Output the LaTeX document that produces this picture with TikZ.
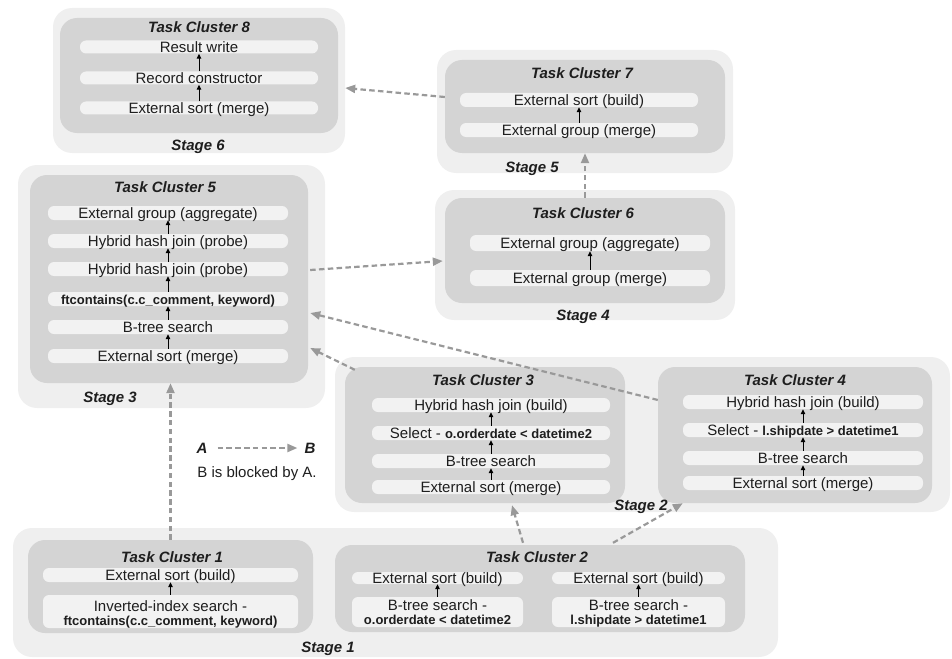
\documentclass[tikz,border=0pt]{standalone}
\usepackage{fontspec}
\setmainfont{Liberation Sans}
\usetikzlibrary{arrows.meta,calc}

\definecolor{stagegray}{HTML}{EFEFEF}
\definecolor{clustergray}{HTML}{D4D4D4}
\definecolor{rowgray}{HTML}{F2F2F2}
\definecolor{dashgray}{HTML}{999999}
\definecolor{inkgray}{HTML}{1E1E1E}

\newcommand\regfont{\fontsize{15}{14}\selectfont}
\newcommand\boldsmall{\fontsize{13}{14}\selectfont\bfseries}

\begin{document}
\begin{tikzpicture}[x=1pt,y=-1pt,
  stagebox/.style={fill=stagegray, rounded corners=19pt, inner sep=0pt, draw=none},
  clusterbox/.style={fill=clustergray, rounded corners=17pt, inner sep=0pt, draw=none},
  rowbox/.style={fill=rowgray, rounded corners=6pt, inner sep=0pt, minimum height=14pt,
    text height=10.7pt, text depth=0pt, font=\regfont, text=inkgray},
  titletext/.style={inner sep=0pt, text height=10.7pt, text depth=0pt,
    font=\regfont\bfseries\itshape, text=inkgray},
  plaintext/.style={inner sep=0pt, text height=10.7pt, text depth=0pt,
    font=\regfont, text=inkgray},
  oparrow/.style={draw=black, line width=1pt, -{Triangle[length=5pt,width=4.5pt]}},
  blockarrow/.style={draw=dashgray, line width=2.2pt, dash pattern=on 5.5pt off 3.3pt,
    -{Triangle[length=10pt,width=8pt]}}
]
\useasboundingbox (0,0) rectangle (952,658);

% ---------- Stage 6 ----------
\node[stagebox, minimum width=292pt, minimum height=145pt] (st6) at (199,80.5) {};
\node[clusterbox, minimum width=278pt, minimum height=115pt] (tc8) at (199,75.5) {};
\node[titletext] (tc8t) at (199,27) {Task Cluster 8};
\node[rowbox, minimum width=238pt, minimum height=13pt] (r8a) at (199,47) {Result write};
\node[rowbox, minimum width=238pt, minimum height=13pt] (r8b) at (199,78) {Record constructor};
\node[rowbox, minimum width=238pt, minimum height=13pt] (r8c) at (199,108) {External sort (merge)};
\node[titletext] (st6t) at (198,145) {Stage 6};
\draw[oparrow] (r8c) -- (r8b);
\draw[oparrow] (r8b) -- (r8a);

% ---------- Stage 5 ----------
\node[stagebox, minimum width=296pt, minimum height=123pt] (st5) at (585,111.5) {};
\node[clusterbox, minimum width=280pt, minimum height=93pt] (tc7) at (585,106.5) {};
\node[titletext] (tc7t) at (582,73) {Task Cluster 7};
\node[rowbox, minimum width=238pt] (r7a) at (579,100) {External sort (build)};
\node[rowbox, minimum width=238pt] (r7b) at (579,130) {External group (merge)};
\node[titletext] (st5t) at (532,167) {Stage 5};
\draw[oparrow] (r7b) -- (r7a);

% ---------- Stage 4 ----------
\node[stagebox, minimum width=300pt, minimum height=130pt] (st4) at (585,255) {};
\node[clusterbox, minimum width=280pt, minimum height=105pt] (tc6) at (585,250.5) {};
\node[titletext] (tc6t) at (583,213) {Task Cluster 6};
\node[rowbox, minimum width=240pt, minimum height=16pt] (r6a) at (590,243) {External group (aggregate)};
\node[rowbox, minimum width=240pt, minimum height=16pt] (r6b) at (590,278) {External group (merge)};
\node[titletext] (st4t) at (583,315) {Stage 4};
\draw[oparrow] (r6b) -- (r6a);

% ---------- Stage 3 ----------
\node[stagebox, minimum width=307pt, minimum height=243pt] (st3) at (171.5,286.5) {};
\node[clusterbox, minimum width=278pt, minimum height=208pt] (tc5) at (169,279) {};
\node[titletext] (tc5t) at (165,187) {Task Cluster 5};
\node[rowbox, minimum width=240pt] (r5a) at (168,213) {External group (aggregate)};
\node[rowbox, minimum width=240pt] (r5b) at (168,241) {Hybrid hash join (probe)};
\node[rowbox, minimum width=240pt] (r5c) at (168,269) {Hybrid hash join (probe)};
\node[rowbox, minimum width=240pt] (r5d) at (168,299) {\boldsmall ftcontains(c.c\_comment, keyword)};
\node[rowbox, minimum width=240pt] (r5e) at (168,327) {B-tree search};
\node[rowbox, minimum width=240pt] (r5f) at (168,356) {External sort (merge)};
\node[titletext] (st3t) at (110,397) {Stage 3};
\draw[oparrow] (r5f) -- (r5e);
\draw[oparrow] (r5e) -- (r5d);
\draw[oparrow] (r5d) -- (r5c);
\draw[oparrow] (r5c) -- (r5b);
\draw[oparrow] (r5b) -- (r5a);

% ---------- Stage 2 ----------
\node[stagebox, minimum width=615pt, minimum height=155pt] (st2) at (642.5,434.5) {};
\node[clusterbox, minimum width=280pt, minimum height=136pt] (tc3) at (485,435) {};
\node[titletext] (tc3t) at (483,380) {Task Cluster 3};
\node[rowbox, minimum width=238pt] (r3a) at (491,405) {Hybrid hash join (build)};
\node[rowbox, minimum width=238pt] (r3b) at (491,433) {Select - {\boldsmall o.orderdate < datetime2}};
\node[rowbox, minimum width=238pt] (r3c) at (491,461) {B-tree search};
\node[rowbox, minimum width=238pt] (r3d) at (491,487) {External sort (merge)};
\draw[oparrow] (r3d) -- (r3c);
\draw[oparrow] (r3c) -- (r3b);
\draw[oparrow] (r3b) -- (r3a);

\node[clusterbox, minimum width=274pt, minimum height=136pt] (tc4) at (795,435) {};
\node[titletext] (tc4t) at (795,380) {Task Cluster 4};
\node[rowbox, minimum width=240pt] (r4a) at (803,402) {Hybrid hash join (build)};
\node[rowbox, minimum width=240pt] (r4b) at (803,430) {Select - {\boldsmall l.shipdate > datetime1}};
\node[rowbox, minimum width=240pt] (r4c) at (803,458) {B-tree search};
\node[rowbox, minimum width=240pt] (r4d) at (803,483) {External sort (merge)};
\draw[oparrow] (r4d) -- (r4c);
\draw[oparrow] (r4c) -- (r4b);
\draw[oparrow] (r4b) -- (r4a);
\node[titletext] (st2t) at (641,505) {Stage 2};

% ---------- Stage 1 ----------
\node[stagebox, minimum width=765pt, minimum height=129pt] (st1) at (395.5,592.5) {};
\node[clusterbox, minimum width=285pt, minimum height=93pt] (tc1) at (170.5,586.5) {};
\node[titletext] (tc1t) at (172,557) {Task Cluster 1};
\node[rowbox, minimum width=255pt] (r1a) at (170.5,575) {External sort (build)};
\node[rowbox, minimum width=255pt, text height=16pt, text depth=17pt] (r1b) at (170.5,611.5)
  {\begin{tabular}[t]{@{}c@{}}Inverted-index search -\\{\boldsmall ftcontains(c.c\_comment, keyword)}\end{tabular}};
\draw[oparrow] (r1b) -- (r1a);

\node[clusterbox, minimum width=410pt, minimum height=87pt] (tc2) at (540,588.5) {};
\node[titletext] (tc2t) at (537,557) {Task Cluster 2};
\node[rowbox, minimum width=171pt, minimum height=12pt] (r2a) at (437.5,578) {External sort (build)};
\node[rowbox, minimum width=171pt, text height=13pt, text depth=17pt] (r2b) at (437.5,612)
  {\begin{tabular}[t]{@{}c@{}}B-tree search -\\{\boldsmall o.orderdate < datetime2}\end{tabular}};
\node[rowbox, minimum width=173pt, minimum height=12pt] (r2c) at (638.5,578) {External sort (build)};
\node[rowbox, minimum width=173pt, text height=13pt, text depth=17pt] (r2d) at (638.5,612)
  {\begin{tabular}[t]{@{}c@{}}B-tree search -\\{\boldsmall l.shipdate > datetime1}\end{tabular}};
\draw[oparrow] (r2b) -- (r2a);
\draw[oparrow] (r2d) -- (r2c);
\node[titletext] (st1t) at (328,647) {Stage 1};

% ---------- Legend ----------
\node[titletext] (la) at (202,448) {A};
\node[titletext] (lb) at (310,448) {B};
\draw[blockarrow] ($(la.east)+(10,0)$) -- ($(lb.west)+(-7,0)$);
\node[plaintext] (lnote) at (257,472) {B is blocked by A.};

% ---------- Blocking dependencies ----------
\draw[blockarrow] ($(tc7.west)+(0,-9.5)$) -- ($(st6.east)+(0,7.5)$);
\draw[blockarrow] (tc6.north) -- (tc7.south);
\draw[blockarrow] ($(tc5.east)+(2,-9)$) -- ($(tc6.west)+(-2,10.5)$);
\draw[blockarrow] ($(tc4.west)+(0,-35)$) -- ($(tc5.east)+(2,34)$);
\draw[blockarrow] ($(tc3.north west)+(10,3)$) -- ($(tc5.east)+(2,69)$);
\draw[blockarrow] (tc1.north) -- (tc1.north |- tc5.south);
\draw[blockarrow] ($(tc2.north)+(-17,-2)$) -- ($(tc3.south)+(27,2)$);
\draw[blockarrow] ($(tc2.north)+(73,-2)$) -- ($(tc4.south west)+(25,0)$);
\end{tikzpicture}
\end{document}
